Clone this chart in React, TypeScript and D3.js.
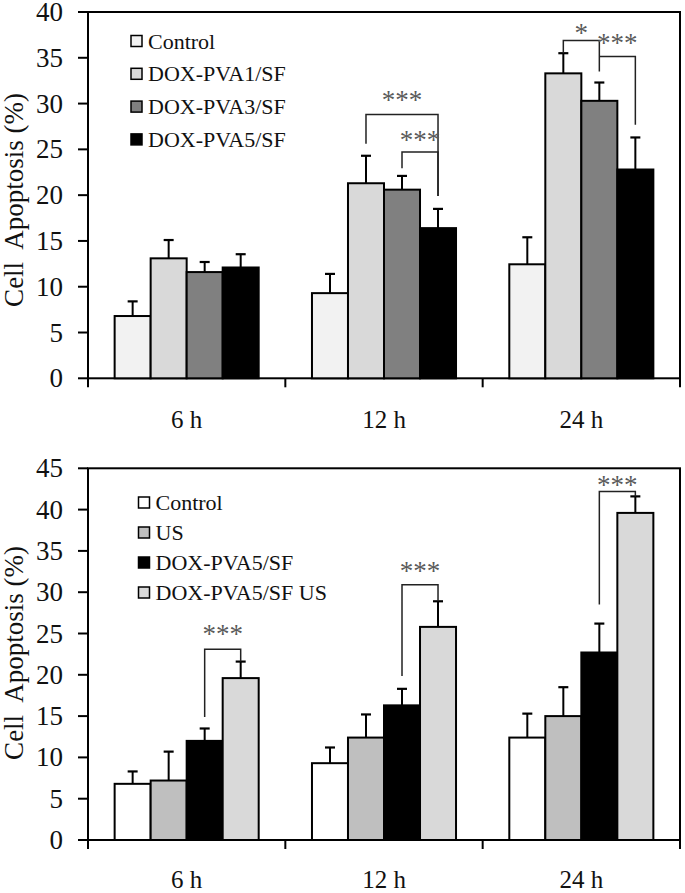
import React from "react";
import * as d3 from "d3";

const categories = ["6 h", "12 h", "24 h"];

// Top panel
const topSeries = ["Control", "DOX-PVA1/SF", "DOX-PVA3/SF", "DOX-PVA5/SF"];
const topColors = ["#f2f2f2", "#d9d9d9", "#808080", "#000000"];
const topValues = [
  [6.8, 9.3, 12.45],
  [13.1, 21.3, 33.3],
  [11.6, 20.6, 30.3],
  [12.1, 16.4, 22.8],
];
const topErrors = [
  [1.6, 2.1, 2.95],
  [2.0, 3.0, 2.2],
  [1.1, 1.5, 2.0],
  [1.45, 2.1, 3.5],
];
const topTicks = [0, 5, 10, 15, 20, 25, 30, 35, 40];
// [category, fromSeries, toSeries, topValue, leftLegEnd, rightLegEnd, label, labelValue]
const topBrackets: [number, number, number, number, number, number, string, number][] = [
  [1, 1, 3, 28.8, 25.6, 19.9, "***", 30.8],
  [1, 2, 3, 24.7, 22.95, 19.9, "***", 26.4],
  [2, 1, 2, 36.9, 35.5, 33.5, "*", 38.1],
  [2, 2, 3, 35.15, 35.15, 27.7, "***", 37.0],
];

// Bottom panel
const botSeries = ["Control", "US", "DOX-PVA5/SF", "DOX-PVA5/SF US"];
const botColors = ["#ffffff", "#bfbfbf", "#000000", "#d9d9d9"];
const botValues = [
  [6.8, 9.3, 12.4],
  [7.2, 12.4, 15.0],
  [12.0, 16.3, 22.7],
  [19.6, 25.8, 39.6],
];
const botErrors = [
  [1.5, 1.9, 2.9],
  [3.5, 2.8, 3.5],
  [1.5, 2.0, 3.5],
  [2.0, 3.1, 2.0],
];
const botTicks = [0, 5, 10, 15, 20, 25, 30, 35, 40, 45];
const botBrackets: [number, number, number, number, number, number, string, number][] = [
  [0, 2, 3, 23.1, 14.9, 21.6, "***", 25.4],
  [1, 2, 3, 30.9, 19.85, 28.9, "***", 33.0],
  [2, 2, 3, 42.2, 28.5, 41.6, "***", 43.4],
];

const FONT = "'Liberation Serif', 'Times New Roman', Times, serif";

type PanelProps = {
  top: number;
  bottom: number;
  yMax: number;
  ticks: number[];
  series: string[];
  colors: string[];
  values: number[][];
  errors: number[][];
  brackets: [number, number, number, number, number, number, string, number][];
  legendX: number;
  legendY: number;
  legendStep: number;
  labelCenter: number;
  catLabelOffset: number;
};

function Panel(p: PanelProps) {
  const left = 88;
  const right = 680;
  const x0 = d3
    .scaleBand<string>()
    .domain(categories)
    .range([left, right])
    .paddingInner(0.27)
    .paddingOuter(0.135);
  const x1 = d3
    .scaleBand<string>()
    .domain(p.series)
    .range([0, x0.bandwidth()])
    .padding(0);
  const y = d3.scaleLinear().domain([0, p.yMax]).range([p.bottom, p.top]);
  const bw = x1.bandwidth();
  const cx = (c: number, s: number) =>
    (x0(categories[c]) as number) + (x1(p.series[s]) as number) + bw / 2;
  const boundaries = [left, left + x0.step(), left + 2 * x0.step(), right];

  return (
    <g>
      {/* frame */}
      <rect
        x={left}
        y={p.top}
        width={right - left}
        height={p.bottom - p.top}
        fill="none"
        stroke="#000"
        strokeWidth={2}
      />
      {/* y ticks */}
      {p.ticks.map((t) => (
        <g key={t}>
          <line x1={left - 10} x2={left} y1={y(t)} y2={y(t)} stroke="#000" strokeWidth={2} />
          <text
            x={63}
            y={y(t)}
            textAnchor="end"
            dominantBaseline="central"
            fontSize={27}
            fontFamily={FONT}
            fill="#111"
          >
            {t}
          </text>
        </g>
      ))}
      {/* x ticks */}
      {boundaries.map((b, i) => (
        <line key={i} x1={b} x2={b} y1={p.bottom} y2={p.bottom + 9} stroke="#000" strokeWidth={2} />
      ))}
      {categories.map((c) => (
        <text
          key={c}
          x={(x0(c) as number) + x0.bandwidth() / 2}
          y={p.bottom + p.catLabelOffset}
          textAnchor="middle"
          fontSize={25}
          fontFamily={FONT}
          fill="#111"
        >
          {c}
        </text>
      ))}
      {/* y label */}
      <text
        transform={`translate(23, ${p.labelCenter}) rotate(-90)`}
        textAnchor="middle"
        fontSize={27}
        fontFamily={FONT}
        fill="#111"
        style={{ whiteSpace: "pre" }}
      >
        {"Cell  Apoptosis (%)"}
      </text>
      {/* bars */}
      {p.series.map((s, si) =>
        categories.map((c, ci) => {
          const v = p.values[si][ci];
          const e = p.errors[si][ci];
          const bx = (x0(c) as number) + (x1(s) as number);
          const mid = bx + bw / 2;
          return (
            <g key={s + c}>
              <line x1={mid} x2={mid} y1={y(v)} y2={y(v + e)} stroke="#000" strokeWidth={2} />
              <line x1={mid - 5} x2={mid + 5} y1={y(v + e)} y2={y(v + e)} stroke="#000" strokeWidth={2.2} />
              <rect
                x={bx}
                y={y(v)}
                width={bw}
                height={p.bottom - y(v)}
                fill={p.colors[si]}
                stroke="#000"
                strokeWidth={2}
              />
            </g>
          );
        })
      )}
      {/* brackets */}
      {p.brackets.map((b, i) => {
        const [c, s1, s2, topV, l, r, label, lv] = b;
        const xa = cx(c, s1);
        const xb = cx(c, s2);
        return (
          <g key={i}>
            <path
              d={`M${xa},${y(l)}V${y(topV)}H${xb}V${y(r)}`}
              fill="none"
              stroke="#222"
              strokeWidth={1.5}
            />
            <text
              x={(xa + xb) / 2}
              y={y(lv) + 12.5}
              textAnchor="middle"
              fontSize={27}
              fontFamily={FONT}
              fill="#5a5a5a"
            >
              {label}
            </text>
          </g>
        );
      })}
      {/* legend */}
      {p.series.map((s, i) => {
        const by = p.legendY + i * p.legendStep;
        return (
          <g key={s}>
            <rect
              x={p.legendX}
              y={by - 13}
              width={11}
              height={11}
              fill={p.colors[i]}
              stroke="#000"
              strokeWidth={1.5}
            />
            <text x={p.legendX + 17} y={by} fontSize={22} fontFamily={FONT} fill="#111">
              {s}
            </text>
          </g>
        );
      })}
    </g>
  );
}

export default function App() {
  return (
    <svg
      width={685}
      height={893}
      style={{ position: "absolute", left: 0, top: 0, background: "#fff" }}
    >
      <rect width={685} height={893} fill="#fff" />
      <Panel
        top={12}
        bottom={378.3}
        yMax={40}
        ticks={topTicks}
        series={topSeries}
        colors={topColors}
        values={topValues}
        errors={topErrors}
        brackets={topBrackets}
        legendX={131}
        legendY={48.5}
        legendStep={32.8}
        labelCenter={200}
        catLabelOffset={50}
      />
      <Panel
        top={468.3}
        bottom={840}
        yMax={45}
        ticks={botTicks}
        series={botSeries}
        colors={botColors}
        values={botValues}
        errors={botErrors}
        brackets={botBrackets}
        legendX={138.5}
        legendY={510}
        legendStep={30}
        labelCenter={653}
        catLabelOffset={48}
      />
    </svg>
  );
}
